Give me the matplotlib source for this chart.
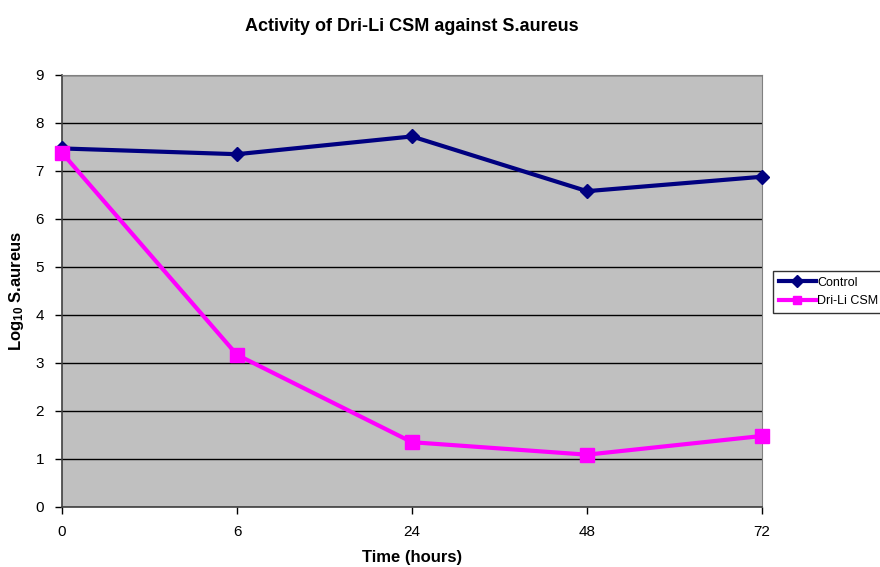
import matplotlib
matplotlib.use('Agg')
import matplotlib.pyplot as plt

plt.rcParams['font.family'] = ['Liberation Sans', 'DejaVu Sans']
plt.rcParams['mathtext.fontset'] = 'custom'
plt.rcParams['mathtext.rm'] = 'Liberation Sans'
plt.rcParams['mathtext.bf'] = 'Liberation Sans:bold'

# data
times = ['0', '6', '24', '48', '72']
control = [7.47, 7.35, 7.72, 6.58, 6.88]
drili = [7.38, 3.17, 1.35, 1.09, 1.48]

fig = plt.figure(figsize=(8.8, 5.67), dpi=100)
ax = fig.add_axes([62/880, 60/567, 700/880, 432/567])
ax.set_facecolor('#C0C0C0')

x = range(len(times))
ax.plot(x, control, color='#000080', lw=3, marker='D', ms=7, label='Control', clip_on=False, zorder=3)
ax.plot(x, drili, color='#FF00FF', lw=3, marker='s', ms=10, label='Dri-Li CSM', clip_on=False, zorder=3)

ax.set_xlim(0, len(times) - 1)
ax.set_ylim(0, 9)
ax.set_xticks(list(x))
ax.set_xticklabels(times)
ax.set_yticks(range(0, 10))
ax.yaxis.grid(True, color='black', lw=1)
ax.set_axisbelow(True)
ax.tick_params(direction='out', length=5, width=1, colors='#000000', labelsize=11, pad=8)

for s in ['left', 'bottom']:
    ax.spines[s].set_color('#404040')
    ax.spines[s].set_linewidth(1.2)
for s in ['top', 'right']:
    ax.spines[s].set_color('#808080')

ax.set_title('Activity of Dri-Li CSM against S.aureus', fontsize=13, fontweight='bold', pad=32)
ax.set_xlabel('Time (hours)', fontsize=12, fontweight='bold', labelpad=8)
ax.set_ylabel(r'Log$\mathbf{_{10}}$ S.aureus', fontsize=12, fontweight='bold', labelpad=7)

leg = fig.legend(loc='upper left', bbox_to_anchor=(773/880, 1 - 271/567), fontsize=9,
                 frameon=True, fancybox=False, edgecolor='black', handlelength=3,
                 borderpad=0.45, labelspacing=0.5, handletextpad=0.1, borderaxespad=0)
for h in leg.legend_handles:
    h.set_markersize(6)
leg.get_frame().set_linewidth(1)

fig.savefig('out.png', dpi=100)
